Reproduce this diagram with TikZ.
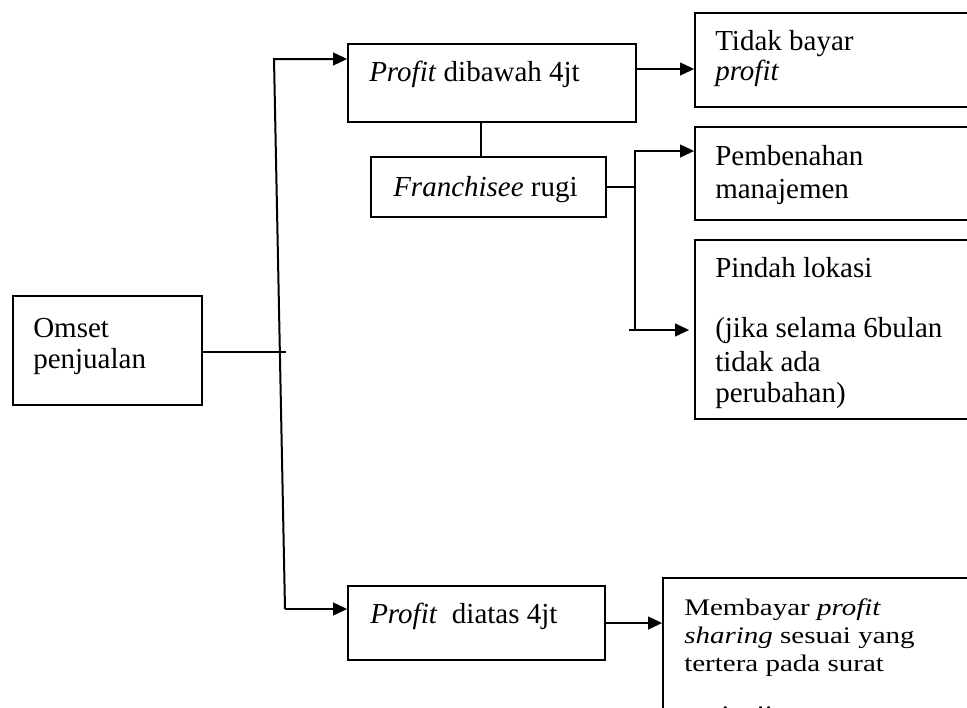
\documentclass[tikz,border=0pt]{standalone}
\usepackage{fontspec}
\setmainfont{Liberation Serif}
\usepackage{graphicx}
\usetikzlibrary{arrows.meta,fit,calc}
\tikzset{
  box/.style={draw, line width=1.3pt, inner sep=0pt},
  thinbox/.style={draw, line width=1pt, inner sep=0pt},
  conn/.style={line width=1.5pt},
  thinconn/.style={line width=1pt},
  arr/.style={line width=1.5pt, -{Triangle[length=10.5pt,width=9.5pt]}},
  txt/.style={anchor=base west, inner sep=0pt, font=\fontsize{21.75}{24}\selectfont},
}
\newcommand{\sq}[1]{\scalebox{1}[0.82]{#1}}
\begin{document}
\begin{tikzpicture}[x=0.75pt, y=-0.75pt]
\useasboundingbox (0,0) rectangle (967,707);
\clip (0,0) rectangle (967,707);
\fill[white] (0,0) rectangle (967,707);
% boxes
\coordinate (o1) at (13,296); \coordinate (o2) at (202,405);
\node[thinbox, fit=(o1)(o2)] (omset) {};
\coordinate (p1) at (348,44); \coordinate (p2) at (636,122);
\node[box, fit=(p1)(p2)] (pdb) {};
\coordinate (k1) at (695,13); \coordinate (k2) at (980,107);
\node[box, fit=(k1)(k2)] (tidak) {};
\coordinate (f1) at (371,157); \coordinate (f2) at (606,217);
\node[box, fit=(f1)(f2)] (frug) {};
\coordinate (m1) at (695,127); \coordinate (m2) at (980,220);
\node[box, fit=(m1)(m2)] (pemb) {};
\coordinate (l1) at (695,240); \coordinate (l2) at (980,419);
\node[box, fit=(l1)(l2)] (pindah) {};
\coordinate (d1) at (348,586); \coordinate (d2) at (605,660);
\node[box, fit=(d1)(d2)] (pda) {};
\coordinate (b1) at (663,578); \coordinate (b2) at (980,740);
\node[box, fit=(b1)(b2)] (memb) {};
% texts
\node[txt] (t1) at (33,337) {Omset};
\node[txt] (t2) at (33,368) {penjualan};
\node[txt] (t3) at (369,81) {\textit{Profit} dibawah 4jt};
\node[txt] (t4) at (715,50) {Tidak bayar};
\node[txt] (t5) at (715,80) {\textit{profit}};
\node[txt] (t6) at (393,196) {\textit{Franchisee} rugi};
\node[txt] (t7) at (715,165) {Pembenahan};
\node[txt] (t8) at (715,198) {manajemen};
\node[txt] (t9) at (715,277) {Pindah lokasi};
\node[txt] (t10) at (715,337) {(jika selama 6bulan};
\node[txt] (t11) at (715,371) {tidak ada};
\node[txt] (t12) at (715,402) {perubahan)};
\node[txt] (t13) at (370,623) {\textit{Profit}\ \ diatas 4jt};
\node[txt] (t14) at (684,615) {\sq{Membayar \textit{profit}}};
\node[txt] (t15) at (684,643) {\sq{\textit{sharing} sesuai yang}};
\node[txt] (t16) at (684,671) {\sq{tertera pada surat}};
\node[txt] (t17) at (684,722) {\sq{perjanjian}};
% connectors
\coordinate (vt) at (274,59);
\coordinate (vb) at (285,609);
\coordinate (oj) at (286,352);
\draw[thinconn] (omset.east |- oj) -- (oj);
\draw[arr] (vb) -- (vt) -- (vt -| pdb.west);
\draw[arr] (vb) -- (vb -| pda.west);
\coordinate (a1) at (0,69);
\draw[arr] (pdb.east |- a1) -- (tidak.west |- a1);
\coordinate (c1) at (481,0);
\draw[conn] (pdb.south -| c1) -- (frug.north -| c1);
\coordinate (v2t) at (635,151);
\coordinate (v2b) at (635,330);
\coordinate (v2s) at (629,330);
\draw[conn] (frug.east) -- (frug.east -| v2t);
\draw[arr] (v2b) -- (v2t) -- (v2t -| pemb.west);
\draw[arr, shorten >=5*0.75pt] (v2s) -- (v2s -| pindah.west);
\draw[arr] (pda.east) -- (pda.east -| memb.west);
\end{tikzpicture}
\end{document}
